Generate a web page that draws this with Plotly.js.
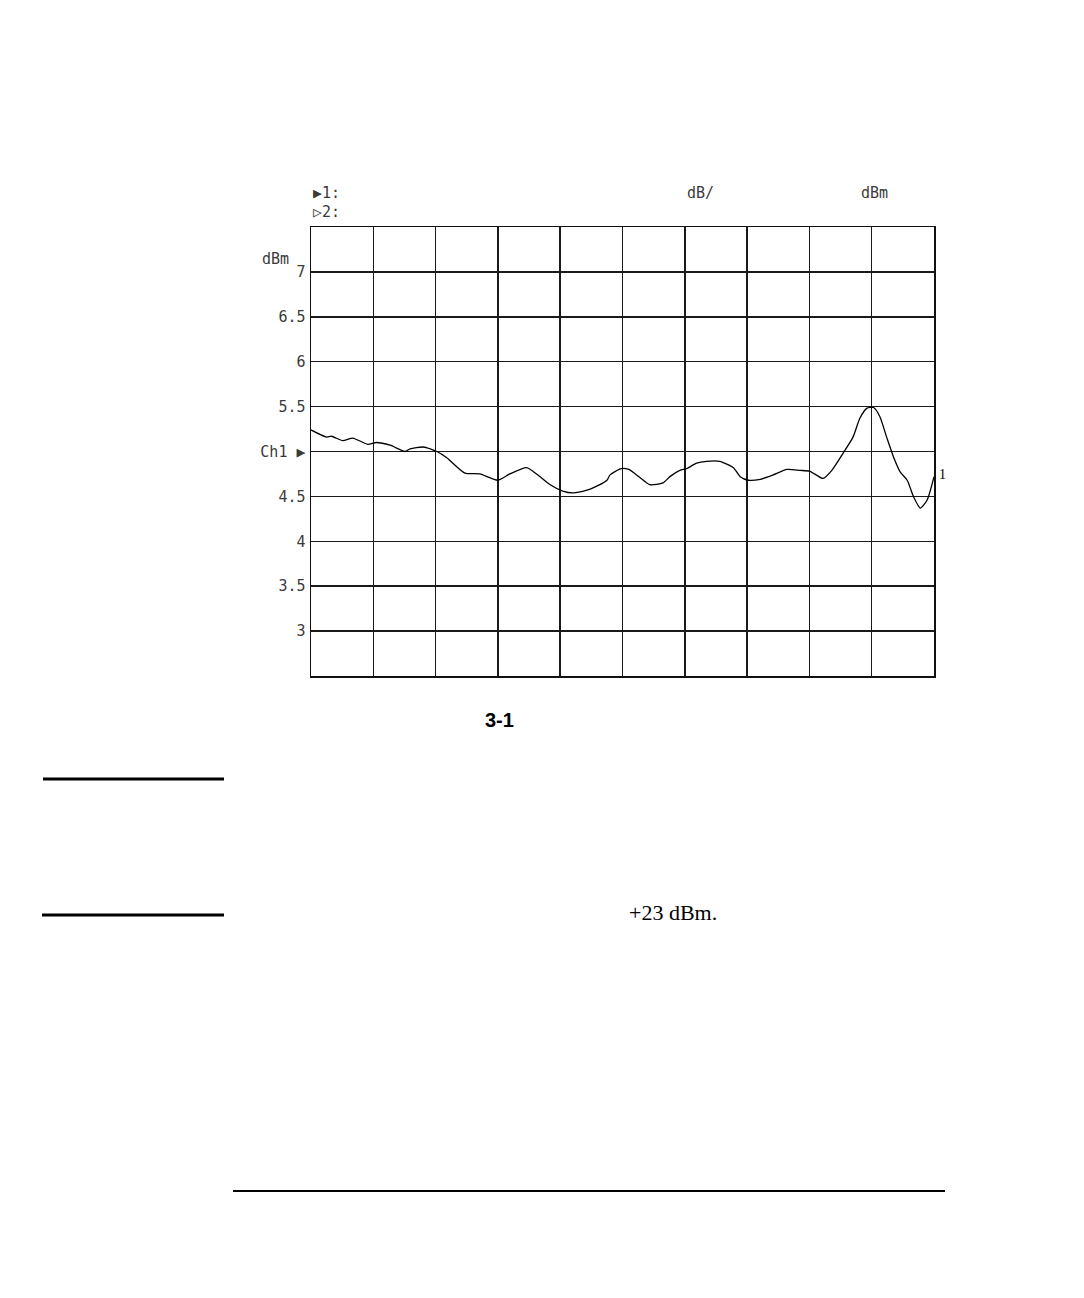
<!DOCTYPE html>
<html>
<head>
<meta charset="utf-8">
<script src="https://cdn.plot.ly/plotly-3.0.1.min.js"></script>
<style>
	html, body { margin: 0; padding: 0; background: #fff; }
	#plot { width: 1084px; height: 1298px; }
</style>
</head>
<body>
<div id="plot"></div>
<script>
const divisions = [0, 0.25, 0.33, 0.51, 0.67, 0.91, 1.05, 1.27, 1.51, 1.59, 1.80, 2.02, 2.18, 2.47, 2.71, 3.00, 3.19, 3.46, 3.62, 3.84, 4.04, 4.21, 4.43, 4.51, 4.75, 4.80, 4.98, 5.10, 5.28, 5.44, 5.65, 5.76, 5.92, 6.03, 6.19, 6.35, 6.56, 6.78, 6.89, 7.02, 7.21, 7.42, 7.64, 7.85, 8.01, 8.22, 8.36, 8.54, 8.70, 8.81, 8.92, 9.03, 9.13, 9.24, 9.35, 9.46, 9.57, 9.67, 9.78, 9.89, 10.0];
const powerDbm = [5.24, 5.16, 5.17, 5.12, 5.15, 5.08, 5.10, 5.07, 5.00, 5.03, 5.05, 5.00, 4.93, 4.76, 4.75, 4.68, 4.75, 4.82, 4.75, 4.63, 4.56, 4.54, 4.57, 4.59, 4.68, 4.74, 4.81, 4.80, 4.71, 4.63, 4.65, 4.72, 4.79, 4.81, 4.87, 4.89, 4.89, 4.82, 4.72, 4.68, 4.69, 4.74, 4.80, 4.79, 4.78, 4.70, 4.79, 4.98, 5.16, 5.37, 5.48, 5.49, 5.39, 5.16, 4.94, 4.77, 4.68, 4.50, 4.37, 4.46, 4.72];
const tickValues = [3, 3.5, 4, 4.5, 5, 5.5, 6, 6.5, 7];
const tickLabels = ['3', '3.5', '4', '4.5', 'Ch1 ▶', '5.5', '6', '6.5', '7'];

const W = 1084, H = 1298;
const L = 311, R = 934, T = 227, B = 676;
// page pixel -> paper fraction
const px = x => (x - L) / (R - L);
const py = y => (B - y) / (B - T);

const plotterFont = { family: 'DejaVu Sans Mono, monospace', size: 15, color: '#3a3a3a' };

const data = [{
	x: divisions,
	y: powerDbm,
	type: 'scatter',
	mode: 'lines',
	line: { color: '#000', width: 1.3, shape: 'spline', smoothing: 0.6 },
	showlegend: false,
	hoverinfo: 'skip',
}];

const note = (x, y, text, font, xanchor) => ({
	xref: 'paper', yref: 'paper',
	x: px(x), y: py(y),
	text: text,
	showarrow: false,
	xanchor: xanchor || 'left',
	yanchor: 'middle',
	font: font || plotterFont,
});

const layout = {
	width: W,
	height: H,
	margin: { l: L, r: W - R, t: T, b: H - B, pad: 0 },
	paper_bgcolor: '#fff',
	plot_bgcolor: '#fff',
	showlegend: false,
	xaxis: {
		range: [0, 10],
		dtick: 1,
		tick0: 0,
		showticklabels: false,
		showgrid: true,
		gridcolor: '#1a1a1a',
		gridwidth: 1.5,
		zeroline: false,
		showline: true,
		linecolor: '#111',
		linewidth: 1.5,
		mirror: true,
		ticks: '',
	},
	yaxis: {
		range: [2.5, 7.5],
		tickmode: 'array',
		tickvals: tickValues,
		ticktext: tickLabels,
		tickfont: plotterFont,
		ticks: '',
		ticklabelstandoff: 1,
		showgrid: true,
		gridcolor: '#1a1a1a',
		gridwidth: 1.5,
		zeroline: false,
		showline: true,
		linecolor: '#111',
		linewidth: 1.5,
		mirror: true,
	},
	annotations: [
		note(311, 193, '▶1:'),
		note(311, 212, '▷2:'),
		note(685, 193, 'dB/'),
		note(859, 193, 'dBm'),
		note(260, 259, 'dBm'),
		note(937, 474, '1', { family: 'Liberation Serif, serif', size: 14, color: '#000' }),
		note(483, 720, '<b>3-1</b>', { family: 'Liberation Sans Narrow, Liberation Sans, sans-serif', size: 20, color: '#000' }),
		note(627, 912, '+23 dBm.', { family: 'Liberation Serif, serif', size: 22, color: '#000' }),
	],
	shapes: [
		{ type: 'line', xref: 'paper', yref: 'paper', x0: px(43), x1: px(224), y0: py(779), y1: py(779), line: { color: '#000', width: 3 } },
		{ type: 'line', xref: 'paper', yref: 'paper', x0: px(42), x1: px(224), y0: py(915), y1: py(915), line: { color: '#000', width: 3 } },
		{ type: 'line', xref: 'paper', yref: 'paper', x0: px(233), x1: px(945), y0: py(1191), y1: py(1191), line: { color: '#000', width: 2 } },
	],
};

Plotly.newPlot('plot', data, layout, { displayModeBar: false, staticPlot: true });
</script>
</body>
</html>
